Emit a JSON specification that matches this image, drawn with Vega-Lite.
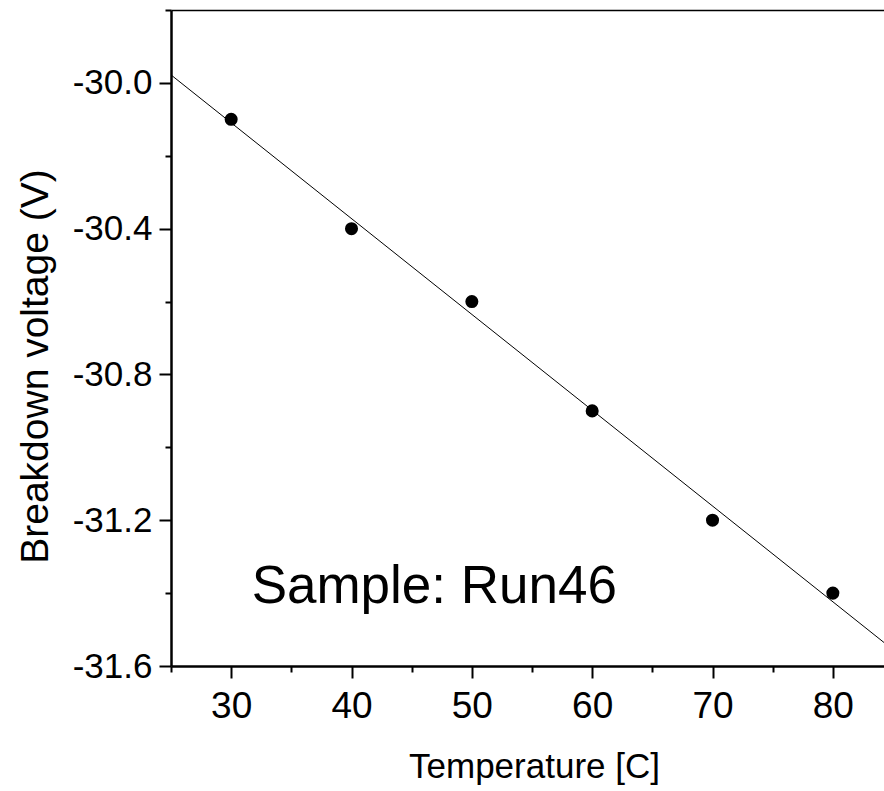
{
  "$schema": "https://vega.github.io/schema/vega-lite/v6.json",
  "autosize": {"type": "none"},
  "padding": {"left": 171, "top": 10, "right": 0, "bottom": 125},
  "width": 713,
  "height": 656,
  "background": "white",
  "config": {
    "view": {"stroke": null},
    "font": "Liberation Sans",
    "axis": {"labelFont": "Liberation Sans", "titleFont": "Liberation Sans", "labelColor": "black", "titleColor": "black", "domainColor": "black", "tickColor": "black", "titleFontWeight": "normal", "grid": false}
  },
  "datasets": {
    "pts": [
      {"temperature": 30, "voltage": -30.1},
      {"temperature": 40, "voltage": -30.4},
      {"temperature": 50, "voltage": -30.6},
      {"temperature": 60, "voltage": -30.9},
      {"temperature": 70, "voltage": -31.2},
      {"temperature": 80, "voltage": -31.4}
    ],
    "note": [
      {"temperature": 31.7, "voltage": -31.428, "label": "Sample: Run46"}
    ]
  },
  "resolve": {"axis": {"x": "independent", "y": "independent"}},
  "layer": [
    {
      "data": {"name": "pts"},
      "transform": [{"regression": "voltage", "on": "temperature", "extent": [25, 84.25]}],
      "mark": {"type": "line", "color": "black", "strokeWidth": 1},
      "encoding": {
        "x": {"field": "temperature", "type": "quantitative", "scale": {"domain": [25, 84.25], "zero": false, "nice": false},
          "axis": {"orient": "bottom", "values": [25, 35, 45, 55, 65, 75], "tickSize": 6, "tickWidth": 2, "labels": false, "domain": false, "title": null}},
        "y": {"field": "voltage", "type": "quantitative", "scale": {"domain": [-31.6, -29.8], "zero": false, "nice": false},
          "axis": {"orient": "left", "values": [-29.8, -30.2, -30.6, -31.0, -31.4], "tickSize": 6, "tickWidth": 2, "labels": false, "domain": false, "title": null}}
      }
    },
    {
      "data": {"name": "pts"},
      "mark": {"type": "circle", "color": "black", "opacity": 1, "size": 170},
      "encoding": {
        "x": {"field": "temperature", "type": "quantitative", "scale": {"domain": [25, 84.25], "zero": false, "nice": false},
          "axis": {"orient": "bottom", "values": [30, 40, 50, 60, 70, 80], "tickSize": 12, "tickWidth": 2, "domainWidth": 2.5,
            "labelFontSize": 37, "labelPadding": 10, "format": "d",
            "title": "Temperature [C]", "titleFontSize": 35, "titleX": 363, "titleY": 111, "titleAlign": "center", "titleBaseline": "alphabetic"}},
        "y": {"field": "voltage", "type": "quantitative", "scale": {"domain": [-31.6, -29.8], "zero": false, "nice": false},
          "axis": {"orient": "left", "values": [-30.0, -30.4, -30.8, -31.2, -31.6], "tickSize": 12, "tickWidth": 2, "domainWidth": 2.5,
            "labelFontSize": 35, "labelPadding": 7, "format": ".1f", "labelExpr": "replace(datum.label, '\u2212', '-')",
            "title": "Breakdown voltage (V)", "titleFontSize": 39, "titleAngle": -90, "titleX": -124, "titleY": 356, "titleAlign": "center", "titleBaseline": "alphabetic"}}
      }
    },
    {
      "data": {"name": "note"},
      "mark": {"type": "text", "align": "left", "baseline": "alphabetic", "fontSize": 53, "font": "Liberation Sans", "color": "black"},
      "encoding": {
        "x": {"field": "temperature", "type": "quantitative", "scale": {"domain": [25, 84.25], "zero": false, "nice": false},
          "axis": {"orient": "top", "ticks": false, "labels": false, "domain": true, "domainWidth": 1.5, "title": null}},
        "y": {"field": "voltage", "type": "quantitative", "scale": {"domain": [-31.6, -29.8], "zero": false, "nice": false}, "axis": null},
        "text": {"field": "label"}
      }
    }
  ]
}
